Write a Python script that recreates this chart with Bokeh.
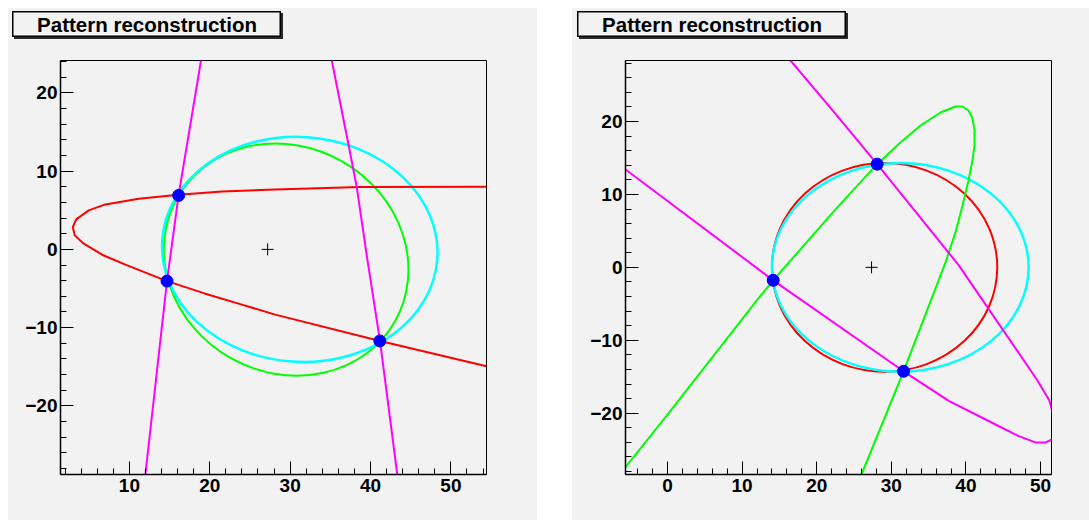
from bokeh.plotting import figure
from bokeh.models import ColumnDataSource, Range1d, SingleIntervalTicker, Spacer
from bokeh.layouts import row, column
from bokeh.core.properties import value
from bokeh.embed import file_html
from bokeh.resources import INLINE

TITLE = "Pattern reconstruction"

# ---------------- left pad data ----------------
L_red_x = [54.43, 38.70, 28.14, 21.52, 16.12, 11.16, 7.02, 4.94, 3.38, 2.96,
           3.20, 4.32, 6.61, 9.50, 14.68, 19.44, 24.00, 28.14, 41.18, 54.43]
L_red_y = [8.01, 7.96, 7.66, 7.41, 6.99, 6.48, 5.75, 4.98, 3.83, 2.85,
           1.79, 0.73, -0.68, -1.95, -4.05, -5.66, -7.06, -8.34, -11.71, -14.94]
L_mag1_x = [18.91, 16.12, 14.68, 11.99]
L_mag1_y = [24.14, 6.90, -4.05, -28.77]
L_mag2_x = [35.18, 37.24, 38.29, 39.53, 41.18, 43.33]
L_mag2_y = [24.14, 13.50, 7.96, -0.77, -11.70, -28.77]
# ellipses: centre x, centre y, full width, full height, angle (rad)
L_cyan = dict(x=[31.2], y=[0.0], w=[34.3], h=[28.75], a=[-0.07])
L_green = dict(x=[29.5], y=[-1.3], w=[31.14], h=[28.9], a=[-0.517])
L_hits_x = [16.13, 14.68, 41.16]
L_hits_y = [6.90, -4.05, -11.70]
L_centre_x = [27.2]
L_centre_y = [0.0]

# ---------------- right pad data ----------------
R_green_x = [-5.63, 0.0, 12.0, 14.17, 22.52, 28.10, 31.23, 33.91, 36.60, 38.60, 39.54,
             40.35, 40.88, 41.15, 41.15, 40.88, 40.35, 39.54, 38.60, 37.27, 31.64, 26.00]
R_green_y = [-27.40, -20.20, -4.50, -1.78, 7.95, 14.15, 17.12, 19.45, 21.23, 22.05, 22.05,
             21.50, 20.40, 18.77, 16.70, 14.66, 11.92, 8.49, 4.79, 0.68, -14.25, -28.40]
R_mag_upper_x = [16.49, 22.52, 28.10, 39.05, 49.57, 51.20, 51.68]
R_mag_upper_y = [28.36, 21.05, 14.15, 0.27, -15.48, -18.30, -20.20]
R_mag_lower_x = [-5.63, 14.17, 31.64, 37.70, 43.30, 47.00, 49.30, 50.70, 51.68]
R_mag_lower_y = [13.42, -1.78, -14.25, -18.30, -21.20, -23.10, -24.00, -24.00, -23.50]
R_red = dict(x=[29.1], y=[0.0], w=[30.2], h=[28.6], a=[0.0])
R_cyan = dict(x=[31.2], y=[0.0], w=[34.4], h=[28.6], a=[0.0])
R_hits_x = [28.10, 14.17, 31.64]
R_hits_y = [14.15, -1.78, -14.25]
R_centre_x = [27.35]
R_centre_y = [0.0]

BG = "#f2f2f2"
FONT = "Liberation Sans"


def make_frame(width, xr, yr, border_left, border_right):
    p = figure(width=width, height=480, x_range=Range1d(*xr), y_range=Range1d(*yr),
               output_backend="svg", toolbar_location=None,
               min_border_left=border_left, min_border_right=border_right,
               min_border_top=20, min_border_bottom=46,
               background_fill_color=BG, border_fill_color=BG,
               outline_line_color="black", outline_line_width=1)
    p.grid.visible = False
    for ax in (p.xaxis[0], p.yaxis[0]):
        ax.ticker = SingleIntervalTicker(interval=10, num_minor_ticks=5)
        ax.major_tick_in = 13
        ax.major_tick_out = 0
        ax.minor_tick_in = 6
        ax.minor_tick_out = 0
        ax.major_tick_line_color = "black"
        ax.minor_tick_line_color = "black"
        ax.axis_line_color = "black"
        ax.axis_line_width = 1.5
        ax.major_label_text_font = FONT
        ax.major_label_text_font_style = "bold"
        ax.major_label_text_font_size = "19px"
        ax.major_label_text_color = "black"
    p.xaxis.major_label_standoff = 4
    p.yaxis.major_label_standoff = 3
    return p


def make_title():
    t = figure(width=269, height=26, x_range=Range1d(0, 1), y_range=Range1d(0, 1),
               output_backend="svg", toolbar_location=None,
               x_axis_type=None, y_axis_type=None,
               min_border_left=0, min_border_right=0, min_border_top=0, min_border_bottom=0,
               background_fill_color=BG, border_fill_color=BG,
               outline_line_color="black", outline_line_width=2,
               styles={"box-shadow": "2px 2px 0px #2a2a2a"})
    t.grid.visible = False
    t.text(x=[0.5], y=[0.5], text=[TITLE], text_align="center", text_baseline="middle",
           text_font=value(FONT), text_font_style="bold", text_font_size="20.5px",
           text_color="black")
    return t


def make_pad(width, p, box_left):
    t = make_title()
    return column(
        Spacer(width=width, height=3),
        row(Spacer(width=box_left, height=26), t),
        Spacer(width=width, height=3),
        p,
        styles={"background-color": BG},
    )


# ---------------- left pad ----------------
pL = make_frame(529, (1.43, 54.43), (-28.77, 24.14), 52, 51)
pL.ellipse(x="x", y="y", width="w", height="h", angle="a", source=ColumnDataSource(L_green),
           fill_color=None, line_color="#00ff00", line_width=2)
pL.ellipse(x="x", y="y", width="w", height="h", angle="a", source=ColumnDataSource(L_cyan),
           fill_color=None, line_color="#00ffff", line_width=2.5)
pL.line(L_red_x, L_red_y, line_color="#ff0000", line_width=2)
pL.line(L_mag1_x, L_mag1_y, line_color="#ff00ff", line_width=2)
pL.line(L_mag2_x, L_mag2_y, line_color="#ff00ff", line_width=2)
pL.scatter(L_hits_x, L_hits_y, size=12, fill_color="#0000ff", line_color="#0000ff")
pL.scatter(L_centre_x, L_centre_y, marker="cross", size=12, line_color="black", line_width=1)

# ---------------- right pad ----------------
pR = make_frame(517, (-5.63, 51.47), (-28.40, 28.36), 53, 38)
pR.ellipse(x="x", y="y", width="w", height="h", angle="a", source=ColumnDataSource(R_red),
           fill_color=None, line_color="#ff0000", line_width=2)
pR.ellipse(x="x", y="y", width="w", height="h", angle="a", source=ColumnDataSource(R_cyan),
           fill_color=None, line_color="#00ffff", line_width=2.5)
pR.line(R_green_x, R_green_y, line_color="#00ff00", line_width=2)
pR.line(R_mag_upper_x, R_mag_upper_y, line_color="#ff00ff", line_width=2)
pR.line(R_mag_lower_x, R_mag_lower_y, line_color="#ff00ff", line_width=2)
pR.scatter(R_hits_x, R_hits_y, size=12, fill_color="#0000ff", line_color="#0000ff")
pR.scatter(R_centre_x, R_centre_y, marker="cross", size=12, line_color="black", line_width=1)

padL = make_pad(529, pL, 4)
padR = make_pad(517, pR, 5)

layout = column(Spacer(width=1089, height=8),
                row(Spacer(width=8, height=512), padL, Spacer(width=35, height=512), padR))

open("out.html", "w").write(file_html(layout, INLINE))
